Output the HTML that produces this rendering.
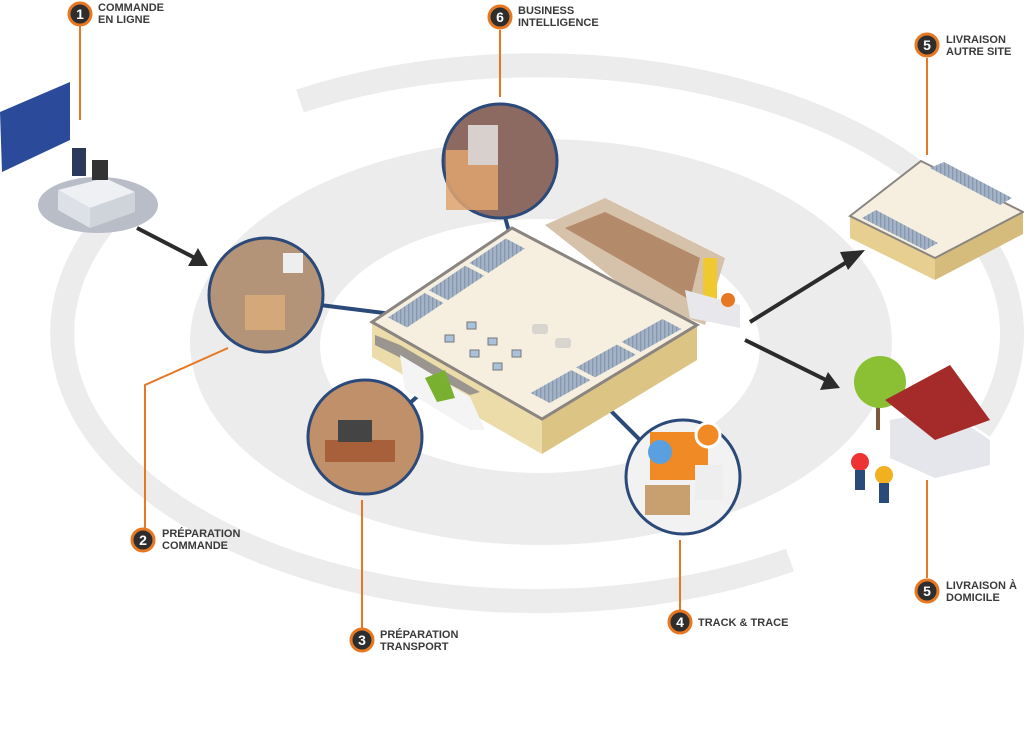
<!DOCTYPE html>
<html><head><meta charset="utf-8"><style>
html,body{margin:0;padding:0;background:#fff}
svg{display:block}
text{font-family:"Liberation Sans",sans-serif;font-weight:bold;fill:#3a3a3a;font-size:11px}
.n{fill:#fff;font-size:14px;text-anchor:middle}
</style></head><body>
<svg width="1024" height="737" viewBox="0 0 1024 737" xmlns="http://www.w3.org/2000/svg">
<defs>
<pattern id="sp" width="4" height="4" patternUnits="userSpaceOnUse"><rect width="4" height="4" fill="#a3b2c6"/><rect width="1.3" height="4" fill="#8797ae"/></pattern>
</defs>
<!-- grey rings -->
<g fill="none" stroke="#ececec" stroke-width="24">
<path d="M300,101 A475,268 0 0 1 980,430"/>
<path d="M120,205 A475,268 0 0 0 790,560"/>
</g>
<ellipse cx="541" cy="342" rx="351" ry="203" fill="#ececec"/>
<ellipse cx="540" cy="346" rx="220" ry="127" fill="#fff"/>
<!-- connectors navy -->
<g stroke="#2b4a7a" stroke-width="4">
<line x1="320" y1="305" x2="400" y2="315"/>
<line x1="503" y1="210" x2="510" y2="235"/>
<line x1="400" y1="412" x2="430" y2="385"/>
<line x1="610" y1="410" x2="648" y2="448"/>
</g>
<!-- warehouse back interior -->
<polygon points="545,225 605,198 725,258 705,325 640,300" fill="#d6c2aa"/>
<polygon points="565,228 605,212 700,258 690,300" fill="#b48b6a"/>
<rect x="703" y="258" width="14" height="42" fill="#f0c830"/>
<polygon points="685,290 740,305 740,328 690,318" fill="#e8e8ec"/>
<circle cx="728" cy="300" r="7" fill="#e87722"/>
<!-- main warehouse -->
<polygon points="372,322 542,419 542,454 372,357" fill="#ecdcaa"/>
<polygon points="542,419 697,325 697,360 542,454" fill="#dcc485"/>
<polygon points="512,228 372,322 542,419 697,325" fill="#f6efe0" stroke="#8a8580" stroke-width="3"/>
<g fill="url(#sp)">
<polygon points="388,317.5 424.6,293 443.6,303 407,327.5"/>
<polygon points="428.8,290.2 465.2,265.8 484.2,275.8 447.8,300.2"/>
<polygon points="469.4,263 505.8,238.5 524.8,248.5 488.4,273"/>
<polygon points="549.6,403 590.4,380.1 571.4,370.1 530.6,393"/>
<polygon points="595.1,377.4 635.9,354.6 616.9,344.6 576.1,367.4"/>
<polygon points="640.6,351.9 681.4,329 662.4,319 621.6,341.9"/>
</g>
<g fill="#a9c2dc" stroke="#777" stroke-width="1">
<rect x="467" y="322" width="9" height="7"/><rect x="445" y="335" width="9" height="7"/><rect x="488" y="338" width="9" height="7"/><rect x="470" y="350" width="9" height="7"/><rect x="512" y="350" width="9" height="7"/><rect x="493" y="363" width="9" height="7"/>
</g>
<g fill="#d8d4ce"><rect x="532" y="324" width="16" height="10" rx="3"/><rect x="555" y="338" width="16" height="10" rx="3"/></g>
<polygon points="375,335 400,345 480,392 470,395 395,355 375,345" fill="#9a958f"/>
<polygon points="400,355 470,397 485,430 470,430 405,390" fill="#f4f4f4"/>
<polygon points="425,378 445,370 455,398 437,402" fill="#7ab030"/>
<!-- circles -->
<g stroke="#2b4a7a" stroke-width="3">
<circle cx="266" cy="295" r="57" fill="#b49478"/>
<circle cx="500" cy="161" r="57" fill="#8c6a62"/>
<circle cx="365" cy="437" r="57" fill="#c0906a"/>
<circle cx="683" cy="477" r="57" fill="#f2f2f2"/>
</g>
<rect x="446" y="150" width="52" height="60" fill="#e0a470" opacity=".85"/>
<rect x="468" y="125" width="30" height="40" fill="#d8d0cc"/>
<rect x="325" y="440" width="70" height="22" fill="#a8603a"/>
<rect x="338" y="420" width="34" height="22" fill="#444"/>
<rect x="245" y="295" width="40" height="35" fill="#d4a878"/>
<rect x="283" y="253" width="20" height="20" fill="#eee"/>
<rect x="650" y="432" width="58" height="48" fill="#f08a24"/>
<rect x="645" y="485" width="45" height="30" fill="#c8a070"/>
<rect x="695" y="465" width="28" height="35" fill="#eee"/>
<circle cx="660" cy="452" r="12" fill="#5aa0e0"/>
<circle cx="708" cy="435" r="12" fill="#f08a24" stroke="#fff" stroke-width="3"/>
<!-- orange leaders -->
<g stroke="#e87722" stroke-width="2" fill="none">
<line x1="80" y1="26" x2="80" y2="120"/>
<line x1="500" y1="30" x2="500" y2="97"/>
<line x1="927" y1="58" x2="927" y2="155"/>
<polyline points="145,528 145,385 228,348"/>
<line x1="362" y1="628" x2="362" y2="500"/>
<line x1="680" y1="610" x2="680" y2="540"/>
<line x1="927" y1="578" x2="927" y2="480"/>
</g>
<!-- arrows -->
<g stroke="#2b2b2b" stroke-width="4">
<line x1="137" y1="228" x2="195" y2="258"/>
<line x1="750" y1="322" x2="850" y2="260"/>
<line x1="745" y1="340" x2="826" y2="380"/>
</g>
<g fill="#2b2b2b">
<polygon points="208,266 188,266 198,248"/>
<polygon points="865,250 848,270 840,252"/>
<polygon points="840,388 820,390 828,372"/>
</g>
<!-- left: card + desk -->
<polygon points="0,112 70,82 70,140 2,172" fill="#2c4a9a"/>
<ellipse cx="98" cy="205" rx="60" ry="28" fill="#b8bdc8"/>
<polygon points="58,190 105,178 135,192 90,208" fill="#eef0f4"/>
<polygon points="58,190 90,208 90,228 58,210" fill="#dde0e6"/>
<polygon points="90,208 135,192 135,212 90,228" fill="#cfd3da"/>
<rect x="72" y="148" width="14" height="28" fill="#2b3a5a"/>
<rect x="92" y="160" width="16" height="20" fill="#333"/>
<!-- right small warehouse -->
<polygon points="850,216 935,258 935,280 850,238" fill="#e6cf90"/>
<polygon points="935,258 1023,212 1023,234 935,280" fill="#d6bc7c"/>
<polygon points="921,161 850,216 935,258 1023,212" fill="#f6efe0" stroke="#8a8580" stroke-width="2"/>
<polygon points="930,168 1000,205 1012,198 944,162" fill="url(#sp)"/>
<polygon points="862,218 925,250 938,243 876,210" fill="url(#sp)"/>
<!-- house -->
<line x1="878" y1="380" x2="878" y2="430" stroke="#7a5a3a" stroke-width="4"/>
<circle cx="880" cy="382" r="26" fill="#8cc034"/>
<polygon points="890,420 945,410 990,440 990,465 935,478 890,458" fill="#e4e6ec"/>
<polygon points="885,400 950,365 990,420 935,440" fill="#a52a2a"/>
<circle cx="860" cy="462" r="9" fill="#e33"/>
<rect x="855" y="470" width="10" height="20" fill="#2a4a7a"/>
<circle cx="884" cy="475" r="9" fill="#f0b020"/>
<rect x="879" y="483" width="10" height="20" fill="#2a4a7a"/>
<!-- badges -->
<g fill="#2e2e2e" stroke="#e87722" stroke-width="3">
<circle cx="80" cy="14" r="11"/><circle cx="500" cy="17" r="11"/><circle cx="927" cy="45" r="11"/>
<circle cx="143" cy="540" r="11"/><circle cx="362" cy="640" r="11"/><circle cx="680" cy="622" r="11"/><circle cx="927" cy="591" r="11"/>
</g>
<text class="n" x="80" y="19">1</text><text class="n" x="500" y="22">6</text><text class="n" x="927" y="50">5</text>
<text class="n" x="143" y="545">2</text><text class="n" x="362" y="645">3</text><text class="n" x="680" y="627">4</text><text class="n" x="927" y="596">5</text>
<text x="98" y="11">COMMANDE</text><text x="98" y="23">EN LIGNE</text>
<text x="518" y="14">BUSINESS</text><text x="518" y="26">INTELLIGENCE</text>
<text x="946" y="43">LIVRAISON</text><text x="946" y="55">AUTRE SITE</text>
<text x="162" y="537">PRÉPARATION</text><text x="162" y="549">COMMANDE</text>
<text x="380" y="638">PRÉPARATION</text><text x="380" y="650">TRANSPORT</text>
<text x="698" y="626">TRACK &amp; TRACE</text>
<text x="946" y="589">LIVRAISON À</text><text x="946" y="601">DOMICILE</text>
</svg>
</body></html>
